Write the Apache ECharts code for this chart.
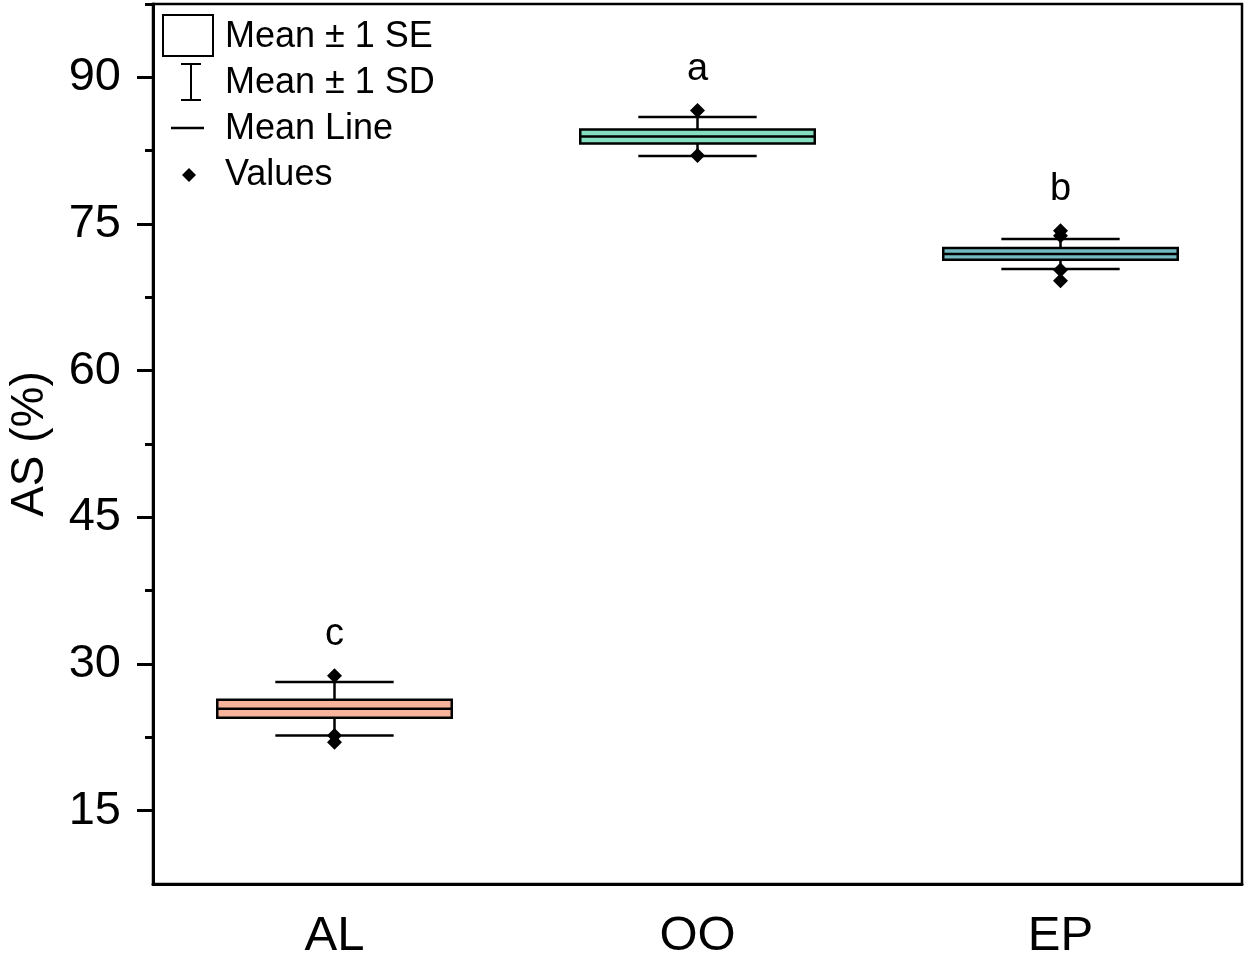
<!DOCTYPE html>
<html>
<head>
<meta charset="utf-8">
<script src="https://cdn.jsdelivr.net/npm/echarts@6/dist/echarts.min.js"></script>
<style>
  html, body { margin: 0; padding: 0; background: #fff; }
  #chart { width: 1244px; height: 959px; }
</style>
</head>
<body>
<div id="chart"></div>
<script>
// 分组与统计量
var categories = ['AL', 'OO', 'EP'];
var meanValues = [25.42, 83.95, 71.94];
var seValues = [0.92, 0.72, 0.60];
var sdValues = [2.73, 2.00, 1.53];
var alValues = [28.8, 22.7, 22.0];
var ooValues = [86.6, 82.0];
var epValues = [74.3, 73.8, 70.3, 69.2];
var sigLetters = ['c', 'a', 'b'];
var boxColors = ['#F8B49B', '#84DFC1', '#72B9C1'];

var majorTicks = [15, 30, 45, 60, 75, 90];
var minorTicks = [22.5, 37.5, 52.5, 67.5, 82.5, 97.5];

var FONT = "'Liberation Sans', Arial, sans-serif";

// 组合数据
var statData = categories.map(function (c, i) {
    return [i, meanValues[i], seValues[i], sdValues[i]];
});
var pointData = [];
[alValues, ooValues, epValues].forEach(function (arr, i) {
    arr.forEach(function (v) { pointData.push([i, v]); });
});
var letterData = categories.map(function (c, i) {
    var all = [alValues, ooValues, epValues][i];
    return [i, Math.max.apply(null, all), sigLetters[i]];
});

var myChart = echarts.init(document.getElementById('chart'));

var option = {
    backgroundColor: '#fff',
    animation: false,
    grid: {
        left: 153, right: 2, top: 4, bottom: 75,
        outerBoundsMode: 'none',
        containLabel: false,
        show: true, borderColor: '#000', borderWidth: 2.5
    },
    xAxis: {
        type: 'category',
        data: categories,
        axisLine: { lineStyle: { color: '#000', width: 3 } },
        axisTick: { alignWithLabel: true, length: 16, lineStyle: { color: '#000', width: 3 } },
        axisLabel: { color: '#000', fontSize: 49, fontFamily: FONT, margin: 28 },
        splitLine: { show: false }
    },
    yAxis: [
        {
            type: 'value',
            min: 7.5, max: 97.5,
            name: 'AS (%)',
            nameLocation: 'middle',
            nameGap: 100,
            nameTextStyle: { color: '#000', fontSize: 46, fontFamily: FONT },
            axisLine: { show: true, lineStyle: { color: '#000', width: 3 } },
            axisTick: { show: true, length: 16, customValues: majorTicks, lineStyle: { color: '#000', width: 3 } },
            axisLabel: { color: '#000', fontSize: 47, fontFamily: FONT, margin: 32, customValues: majorTicks },
            splitLine: { show: false }
        },
        {
            type: 'value',
            min: 7.5, max: 97.5,
            position: 'left',
            axisLine: { show: false },
            axisTick: { show: true, length: 8, customValues: minorTicks, lineStyle: { color: '#000', width: 3 } },
            axisLabel: { show: false },
            splitLine: { show: false }
        }
    ],
    series: [
        {
            // 标准差误差线
            name: 'Mean ± 1 SD',
            type: 'custom',
            z: 2,
            data: statData,
            renderItem: function (params, api) {
                var i = api.value(0), m = api.value(1), sd = api.value(3);
                var top = api.coord([i, m + sd]);
                var bot = api.coord([i, m - sd]);
                var half = api.size([1, 0])[0] * 0.163;
                var st = { stroke: '#000', lineWidth: 2.5 };
                return {
                    type: 'group',
                    children: [
                        { type: 'line', shape: { x1: top[0], y1: top[1], x2: bot[0], y2: bot[1] }, style: st },
                        { type: 'line', shape: { x1: top[0] - half, y1: top[1], x2: top[0] + half, y2: top[1] }, style: st },
                        { type: 'line', shape: { x1: bot[0] - half, y1: bot[1], x2: bot[0] + half, y2: bot[1] }, style: st }
                    ]
                };
            }
        },
        {
            // 标准误箱体与均值线
            name: 'Mean ± 1 SE',
            type: 'custom',
            z: 3,
            data: statData,
            renderItem: function (params, api) {
                var i = api.value(0), m = api.value(1), se = api.value(2);
                var top = api.coord([i, m + se]);
                var bot = api.coord([i, m - se]);
                var mid = api.coord([i, m]);
                var half = api.size([1, 0])[0] * 0.323;
                return {
                    type: 'group',
                    children: [
                        {
                            type: 'rect',
                            shape: { x: top[0] - half, y: top[1], width: half * 2, height: bot[1] - top[1] },
                            style: { fill: boxColors[i], stroke: '#000', lineWidth: 2.5 }
                        },
                        {
                            type: 'line',
                            shape: { x1: mid[0] - half, y1: mid[1], x2: mid[0] + half, y2: mid[1] },
                            style: { stroke: '#000', lineWidth: 2.5 }
                        }
                    ]
                };
            }
        },
        {
            name: 'Values',
            type: 'scatter',
            z: 4,
            symbol: 'diamond',
            symbolSize: [15, 15],
            itemStyle: { color: '#000', opacity: 1 },
            data: pointData
        },
        {
            // 显著性字母
            type: 'custom',
            z: 5,
            data: letterData,
            renderItem: function (params, api) {
                var p = api.coord([api.value(0), api.value(1)]);
                return {
                    type: 'text',
                    style: {
                        x: p[0], y: p[1] - 22,
                        text: sigLetters[params.dataIndex],
                        fill: '#000',
                        font: '38px ' + FONT,
                        align: 'center',
                        verticalAlign: 'bottom'
                    }
                };
            }
        }
    ],
    graphic: [
        { type: 'rect', shape: { x: 163, y: 15, width: 50, height: 41 }, style: { fill: '#fff', stroke: '#000', lineWidth: 2 }, z: 10 },
        { type: 'line', shape: { x1: 191, y1: 64, x2: 191, y2: 100 }, style: { stroke: '#000', lineWidth: 2 }, z: 10 },
        { type: 'line', shape: { x1: 181, y1: 64, x2: 201, y2: 64 }, style: { stroke: '#000', lineWidth: 2 }, z: 10 },
        { type: 'line', shape: { x1: 181, y1: 100, x2: 201, y2: 100 }, style: { stroke: '#000', lineWidth: 2 }, z: 10 },
        { type: 'line', shape: { x1: 171, y1: 128, x2: 204, y2: 128 }, style: { stroke: '#000', lineWidth: 2.5 }, z: 10 },
        { type: 'polygon', shape: { points: [[189, 168], [196, 175], [189, 182], [182, 175]] }, style: { fill: '#000' }, z: 10 },
        { type: 'text', x: 225, y: 37, style: { text: 'Mean ± 1 SE', font: '36px ' + FONT, fill: '#000', verticalAlign: 'middle' }, z: 10 },
        { type: 'text', x: 225, y: 83, style: { text: 'Mean ± 1 SD', font: '36px ' + FONT, fill: '#000', verticalAlign: 'middle' }, z: 10 },
        { type: 'text', x: 225, y: 129, style: { text: 'Mean Line', font: '36px ' + FONT, fill: '#000', verticalAlign: 'middle' }, z: 10 },
        { type: 'text', x: 225, y: 175, style: { text: 'Values', font: '36px ' + FONT, fill: '#000', verticalAlign: 'middle' }, z: 10 }
    ]
};

myChart.setOption(option);
window.onresize = function () {
    myChart.resize();
};
</script>
</body>
</html>
